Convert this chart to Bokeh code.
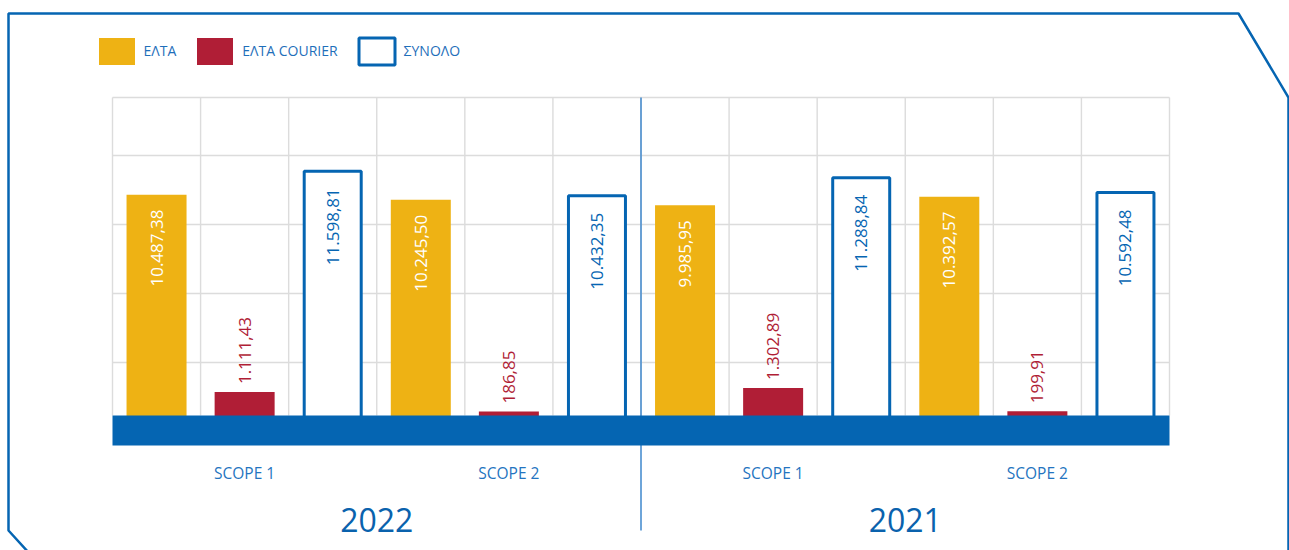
from bokeh.plotting import figure
from bokeh.models import Range1d, ColumnDataSource, Legend, LegendItem, PolyAnnotation
from bokeh.core.properties import value
from bokeh.embed import file_html
from bokeh.resources import INLINE

# ---------------- data ----------------
years = ["2022", "2021"]
scopes = ["SCOPE 1", "SCOPE 2"]
series = ["ΕΛΤΑ", "ΕΛΤΑ COURIER", "ΣΥΝΟΛΟ"]
# order of groups: 2022 SCOPE 1, 2022 SCOPE 2, 2021 SCOPE 1, 2021 SCOPE 2
elta = [10487.38, 10245.50, 9985.95, 10392.57]
courier = [1111.43, 186.85, 1302.89, 199.91]
total = [11598.81, 10432.35, 11288.84, 10592.48]

# ---------------- layout / style ----------------
W, H = 1289, 550
GRID_L, GRID_R = 112, 1169          # canvas px of the grid area
ZERO_PX = 415                        # canvas y of value 0 (top of the blue base)
PX_PER_UNIT = 0.02106
N_COLS = len(years) * len(scopes) * len(series)
COL_PX = (GRID_R - GRID_L) / N_COLS

YELLOW = "#EEB214"
RED = "#B01E36"
BLUE = "#0565B2"
LBLUE = "#4A8FD0"
GRIDC = "#DCDCDC"
FONT = "Open Sans"


def px(v):
    """screen pixels -> value units (vertical)"""
    return v / PX_PER_UNIT


def fmt(v):
    s = f"{v:,.2f}"
    return s.replace(",", "X").replace(".", ",").replace("X", ".")


x_range = Range1d(-GRID_L / COL_PX, N_COLS + (W - GRID_R) / COL_PX)
y_range = Range1d(-(H - ZERO_PX) / PX_PER_UNIT, ZERO_PX / PX_PER_UNIT)

p = figure(width=W, height=H, x_range=x_range, y_range=y_range,
           x_axis_location=None, y_axis_location=None, tools="",
           toolbar_location=None, output_backend="svg", min_border=0)
p.grid.visible = False
p.outline_line_color = None
p.background_fill_color = "white"

GRID_TOP = px(318)
grid_levels = [px(53), px(122), px(191), px(260), GRID_TOP]

# grid
p.segment(x0=[0] * len(grid_levels), x1=[N_COLS] * len(grid_levels),
          y0=grid_levels, y1=grid_levels, line_color=GRIDC, line_width=1.4)
p.segment(x0=list(range(N_COLS + 1)), x1=list(range(N_COLS + 1)),
          y0=[0] * (N_COLS + 1), y1=[GRID_TOP] * (N_COLS + 1),
          line_color=GRIDC, line_width=1.4)

# divider between years
n_per_year = len(scopes) * len(series)
p.segment(x0=[n_per_year], x1=[n_per_year], y0=[GRID_TOP], y1=[px(-115)],
          line_color=LBLUE, line_width=1.6)

# bars
ng = len(elta)
xs_e = [g * 3 + 0.5 for g in range(ng)]
xs_c = [g * 3 + 1.5 for g in range(ng)]
xs_t = [g * 3 + 2.5 for g in range(ng)]
bw = 60 / COL_PX
base = px(-12)

src_e = ColumnDataSource(dict(x=xs_e, top=elta, lbl=[fmt(v) for v in elta]))
src_c = ColumnDataSource(dict(x=xs_c, top=courier, lbl=[fmt(v) for v in courier]))
src_t = ColumnDataSource(dict(x=xs_t, top=total, lbl=[fmt(v) for v in total]))

r_e = p.vbar(x="x", top="top", bottom=base, width=bw, source=src_e,
             fill_color=YELLOW, line_color=None)
r_c = p.vbar(x="x", top="top", bottom=base, width=bw, source=src_c,
             fill_color=RED, line_color=None)
r_t = p.vbar(x="x", top="top", bottom=base, width=57 / COL_PX, source=src_t,
             fill_color="white", line_color=BLUE, line_width=3)

# blue base band
p.quad(left=[0], right=[N_COLS], top=[0], bottom=[px(-30)],
       fill_color=BLUE, line_color=None)

# value labels
lab_kw = dict(angle=1.5708, text_font=value(FONT), text_font_size="17px",
              text_baseline="middle")
p.text(x="x", y="top", text="lbl", source=src_e, text_align="right",
       y_offset=15, text_color="white", **lab_kw)
p.text(x="x", y="top", text="lbl", source=src_t, text_align="right",
       y_offset=17, text_color=BLUE, **lab_kw)
p.text(x="x", y="top", text="lbl", source=src_c, text_align="left",
       y_offset=-8, text_color=RED, **lab_kw)

# category labels
scope_x = [g * 3 + 1.5 for g in range(ng)]
scope_t = [s for _ in years for s in scopes]
p.text(x=scope_x, y=[0] * ng, text=scope_t, y_offset=57,
       text_align="center", text_baseline="middle", text_color="#2474C0",
       text_font=value(FONT), text_font_size="15.5px")
year_x = [i * n_per_year + n_per_year / 2 for i in range(len(years))]
p.text(x=year_x, y=[0] * len(years), text=years, y_offset=104,
       text_align="center", text_baseline="middle", text_color="#0A62AD",
       text_font=value(FONT), text_font_size="32px")

# legend (bokeh insets area swatches by 10% on each side)
GW, GH = 45, 34
legend = Legend(items=[LegendItem(label=series[0], renderers=[r_e]),
                       LegendItem(label=series[1], renderers=[r_c]),
                       LegendItem(label=series[2], renderers=[r_t])],
                orientation="horizontal", location=(93.5, H - 33.6 - GH),
                glyph_width=GW, glyph_height=GH, label_standoff=5, spacing=16,
                padding=0, margin=0, border_line_color=None,
                background_fill_alpha=0, label_text_font=FONT,
                label_text_font_size="14px", label_text_color="#1F6FBA",
                label_height=GH)
p.add_layout(legend)

# decorative frame
frame = PolyAnnotation(xs=[8, 1238, 1288, 1288, 254, 8],
                       ys=[13, 13, 97, 800, 800, 530],
                       xs_units="canvas", ys_units="canvas",
                       fill_alpha=0, line_color=BLUE, line_alpha=1,
                       line_width=2.5)
p.add_layout(frame)

open("out.html", "w").write(file_html(p, INLINE))
